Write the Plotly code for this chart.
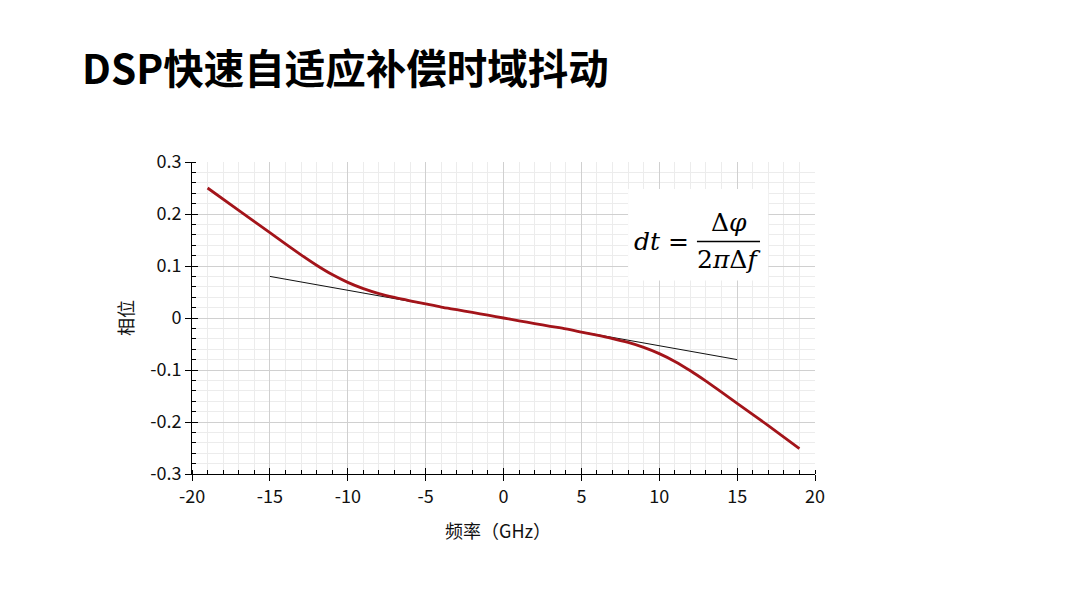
import plotly.graph_objects as go

# ---- data ----
freq_ghz = [-19, -17, -15, -14, -13, -12, -11, -10, -9, -8, -7, -6, -5, -4, -3, -2, -1, 0,
            1, 2, 3, 4, 5, 6, 7, 8, 9, 10, 11, 12, 13, 14, 15, 17, 19]
phase = [0.250, 0.207, 0.164, 0.1425, 0.1215, 0.1015, 0.0835, 0.0685, 0.0565, 0.047,
         0.0395, 0.033, 0.027, 0.021, 0.016, 0.0107, 0.0053, 0.0,
         -0.0053, -0.0107, -0.016, -0.021, -0.027, -0.033, -0.0395, -0.047, -0.0565,
         -0.0685, -0.0835, -0.1015, -0.1215, -0.1425, -0.164, -0.207, -0.251]
tangent_x = [-15, 15]
tangent_y = [0.08, -0.08]

title_text = "DSP快速自适应补偿时域抖动"
x_title = "频率（GHz）"
y_title = "相位"
x_ticks = [-20, -15, -10, -5, 0, 5, 10, 15, 20]
y_ticks = [-0.3, -0.2, -0.1, 0, 0.1, 0.2, 0.3]
y_ticklabels = ["-0.3", "-0.2", "-0.1", "0", "0.1", "0.2", "0.3"]

CJK = "Noto Sans CJK SC"
MATH = "DejaVu Serif"

W, H = 1072, 599  # page body has an 8px margin

fig = go.Figure()
fig.add_trace(go.Scatter(x=tangent_x, y=tangent_y, mode="lines",
                         line=dict(color="#111111", width=1), showlegend=False,
                         hoverinfo="skip"))
fig.add_trace(go.Scatter(x=freq_ghz, y=phase, mode="lines",
                         line=dict(color="#a3141a", width=2.8, shape="spline", smoothing=0.7),
                         showlegend=False))
# invisible trace for overlay axes (crossing ticks)
fig.add_trace(go.Scatter(x=[0], y=[0], xaxis="x2", yaxis="y2", mode="markers",
                         marker=dict(opacity=0), showlegend=False, hoverinfo="skip"))

tickfont = dict(family=CJK, size=18, color="#111111")
fig.update_layout(
    width=W, height=H,
    paper_bgcolor="white", plot_bgcolor="white",
    margin=dict(l=184, r=265, t=154, b=133),
    title=dict(text="<b>" + title_text + "</b>", font=dict(family=CJK, size=40.5, color="black"),
               xref="container", x=74 / W, xanchor="left",
               yref="container", y=1 - 62 / H, yanchor="middle"),
    xaxis=dict(range=[-20, 20], tickvals=x_ticks, ticktext=[str(v) for v in x_ticks],
               showline=True, linecolor="black", linewidth=1,
               ticks="outside", ticklen=6, tickcolor="black", tickwidth=1,
               showgrid=True, gridcolor="#d0d0d0", gridwidth=1, zeroline=False,
               tickfont=tickfont,
               minor=dict(dtick=1, ticks="inside", ticklen=4, tickcolor="black",
                          showgrid=True, gridcolor="#ececec", gridwidth=1)),
    yaxis=dict(range=[-0.3, 0.3], tickvals=y_ticks, ticktext=y_ticklabels,
               showline=True, linecolor="black", linewidth=1,
               ticks="outside", ticklen=6, tickcolor="black", tickwidth=1,
               showgrid=True, gridcolor="#d0d0d0", gridwidth=1, zeroline=False,
               tickfont=tickfont,
               minor=dict(dtick=0.02, ticks="inside", ticklen=4, tickcolor="black",
                          showgrid=True, gridcolor="#ececec", gridwidth=1)),
    xaxis2=dict(range=[-20, 20], overlaying="x", anchor="y2", side="bottom",
                tickvals=x_ticks, ticks="inside", ticklen=6, tickcolor="black",
                showticklabels=False, showgrid=False, zeroline=False, showline=False),
    yaxis2=dict(range=[-0.3, 0.3], overlaying="y", anchor="x2", side="left",
                tickvals=y_ticks, ticks="inside", ticklen=6, tickcolor="black",
                showticklabels=False, showgrid=False, zeroline=False, showline=False),
)

# white box behind the formula
fig.add_shape(type="rect", xref="x", yref="y", x0=8.0, x1=17.0, y0=0.072, y1=0.248,
              fillcolor="white", line=dict(width=0), layer="above")
# fraction bar
fig.add_shape(type="line", xref="x", yref="y", x0=12.42, x1=16.47, y0=0.147, y1=0.147,
              line=dict(color="black", width=1.4), layer="above")

mfont = dict(family=MATH, size=25, color="black")
fig.add_annotation(x=12.05, y=0.147, xref="x", yref="y", text="<i>dt</i> =",
                   showarrow=False, xanchor="right", yanchor="middle", font=mfont)
fig.add_annotation(x=14.45, y=0.151, xref="x", yref="y", text="Δ<i>φ</i>",
                   showarrow=False, xanchor="center", yanchor="bottom", font=mfont)
fig.add_annotation(x=14.45, y=0.145, xref="x", yref="y", text="2<i>π</i>Δ<i>f</i>",
                   showarrow=False, xanchor="center", yanchor="top", font=mfont)

# axis titles
fig.add_annotation(x=(125 - 192) / 623, y=0.5, xref="paper", yref="paper", text=y_title,
                   textangle=-90, showarrow=False, xanchor="center", yanchor="middle",
                   font=dict(family=CJK, size=18, color="#111111"))
fig.add_annotation(x=(498 - 192) / 623, y=(474 - 530) / 312, xref="paper", yref="paper",
                   text=x_title, showarrow=False, xanchor="center", yanchor="middle",
                   font=dict(family=CJK, size=18, color="#111111"))

fig.write_html("out.html")
